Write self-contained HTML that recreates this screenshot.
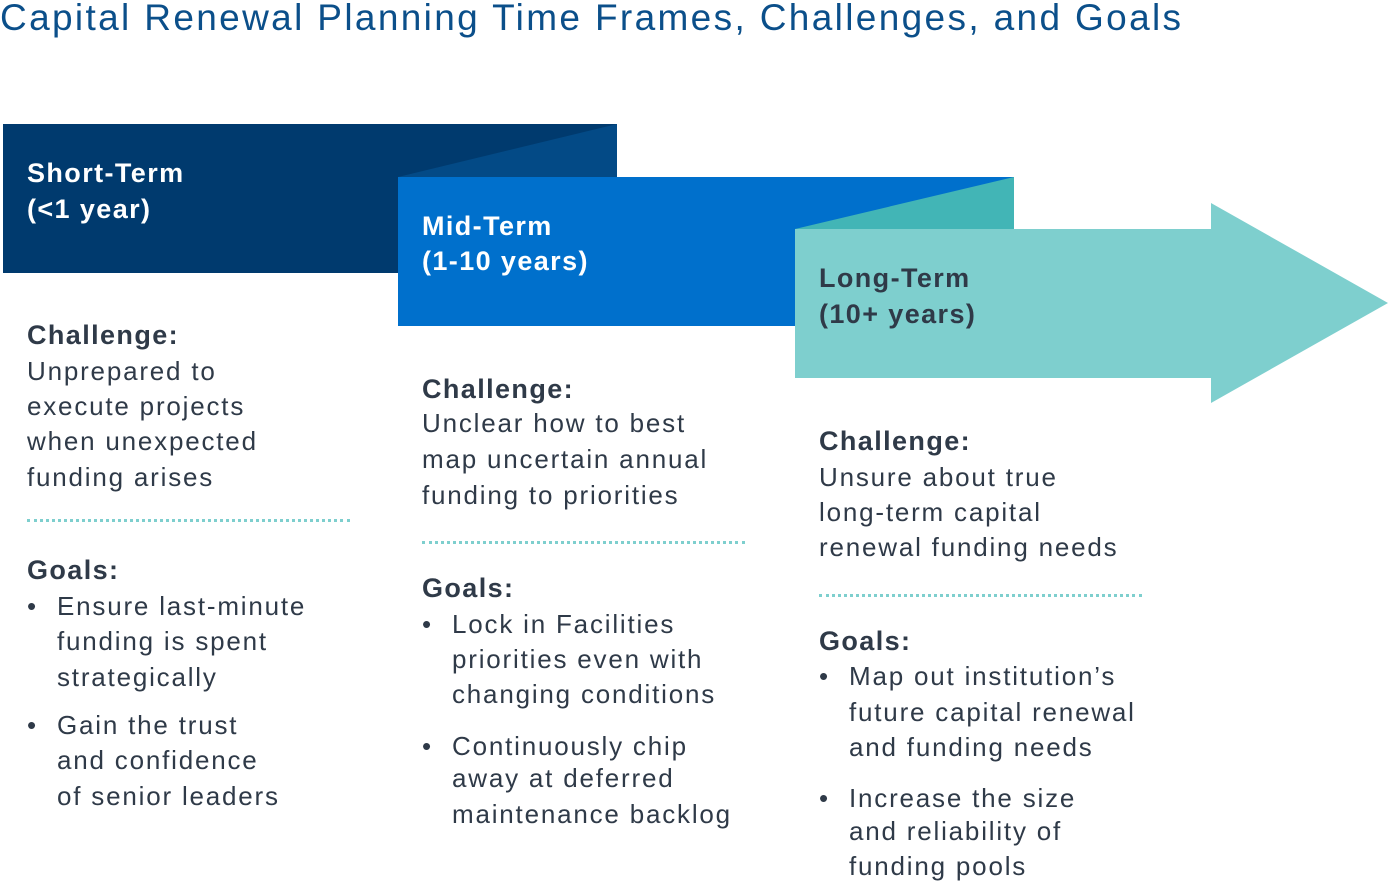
<!DOCTYPE html>
<html><head><meta charset="utf-8"><style>
body{margin:0;width:1400px;height:890px;background:#fff;position:relative;overflow:hidden;font-family:"Liberation Sans",sans-serif}
.t{position:absolute;white-space:nowrap;line-height:30px;font-size:26px;color:#2f3a48;letter-spacing:1.8px}
.b{font-weight:bold;font-size:27px;letter-spacing:1.4px}
.w{color:#fff}
.d{position:absolute;height:0;border-top:3px dotted #7ecfce}
</style></head><body>
<div class="t" style="left:0;top:-2px;font-size:37px;line-height:40px;color:#0b4f8a;letter-spacing:2.35px">Capital Renewal Planning Time Frames, Challenges, and Goals</div>
<svg width="1400" height="890" style="position:absolute;left:0;top:0">
<rect x="3" y="124" width="614" height="149" fill="#003a6e"/>
<polygon points="398,177 617,124 617,177" fill="#034a86"/>
<rect x="398" y="177" width="616" height="149" fill="#0070cc"/>
<polygon points="795,229 1014,177 1014,229" fill="#42b5b6"/>
<polygon points="795,229 1211,229 1211,203 1388,303 1211,403 1211,378 795,378" fill="#7ecfce"/>
</svg>
<div class="t b w" style="left:27px;top:158px">Short-Term</div>
<div class="t b w" style="left:27px;top:194px">(&lt;1 year)</div>
<div class="t b w" style="left:422px;top:211px">Mid-Term</div>
<div class="t b w" style="left:422px;top:246px">(1-10 years)</div>
<div class="t b" style="left:819px;top:263px">Long-Term</div>
<div class="t b" style="left:819px;top:299px">(10+ years)</div>

<div class="t b" style="left:27px;top:320px">Challenge:</div>
<div class="t" style="left:27px;top:356px">Unprepared to</div>
<div class="t" style="left:27px;top:391px">execute projects</div>
<div class="t" style="left:27px;top:426px">when unexpected</div>
<div class="t" style="left:27px;top:462px">funding arises</div>
<div class="d" style="left:27px;top:519px;width:323px"></div>
<div class="t b" style="left:27px;top:555px">Goals:</div>
<div class="t" style="left:27px;top:591px">•</div>
<div class="t" style="left:57px;top:591px">Ensure last-minute</div>
<div class="t" style="left:57px;top:626px">funding is spent</div>
<div class="t" style="left:57px;top:662px">strategically</div>
<div class="t" style="left:27px;top:710px">•</div>
<div class="t" style="left:57px;top:710px">Gain the trust</div>
<div class="t" style="left:57px;top:745px">and confidence</div>
<div class="t" style="left:57px;top:781px">of senior leaders</div>

<div class="t b" style="left:422px;top:374px">Challenge:</div>
<div class="t" style="left:422px;top:408px">Unclear how to best</div>
<div class="t" style="left:422px;top:444px">map uncertain annual</div>
<div class="t" style="left:422px;top:480px">funding to priorities</div>
<div class="d" style="left:422px;top:541px;width:323px"></div>
<div class="t b" style="left:422px;top:573px">Goals:</div>
<div class="t" style="left:422px;top:609px">•</div>
<div class="t" style="left:452px;top:609px">Lock in Facilities</div>
<div class="t" style="left:452px;top:644px">priorities even with</div>
<div class="t" style="left:452px;top:679px">changing conditions</div>
<div class="t" style="left:422px;top:731px">•</div>
<div class="t" style="left:452px;top:731px">Continuously chip</div>
<div class="t" style="left:452px;top:763px">away at deferred</div>
<div class="t" style="left:452px;top:799px">maintenance backlog</div>

<div class="t b" style="left:819px;top:426px">Challenge:</div>
<div class="t" style="left:819px;top:462px">Unsure about true</div>
<div class="t" style="left:819px;top:497px">long-term capital</div>
<div class="t" style="left:819px;top:532px">renewal funding needs</div>
<div class="d" style="left:819px;top:594px;width:323px"></div>
<div class="t b" style="left:819px;top:626px">Goals:</div>
<div class="t" style="left:819px;top:661px">•</div>
<div class="t" style="left:849px;top:661px">Map out institution’s</div>
<div class="t" style="left:849px;top:697px">future capital renewal</div>
<div class="t" style="left:849px;top:732px">and funding needs</div>
<div class="t" style="left:819px;top:783px">•</div>
<div class="t" style="left:849px;top:783px">Increase the size</div>
<div class="t" style="left:849px;top:816px">and reliability of</div>
<div class="t" style="left:849px;top:851px">funding pools</div>
</body></html>
